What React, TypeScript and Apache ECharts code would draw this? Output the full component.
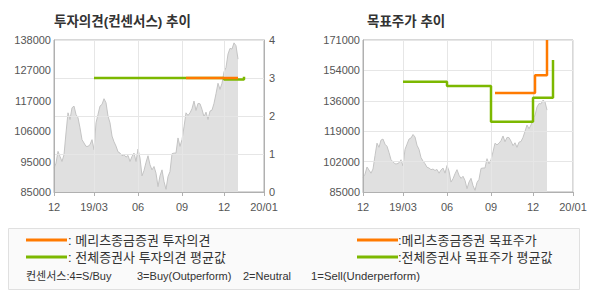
import { useEffect, useRef } from "react";
import * as echarts from "echarts";

// ---- data ----
const xTickLabels = ["12", "19/03", "06", "09", "12", "20/01"];
const xTickIndex = [0, 20, 42, 64, 85, 105];
const slotCount = 106;

const priceLeftTicks = ["85000", "95000", "106000", "117000", "127000", "138000"];
const priceRightTicks = ["85000", "102000", "119000", "136000", "154000", "171000"];
const opinionTicks = ["0", "1", "2", "3", "4"];

const price = [
  93300, 95060, 99160, 97400, 95650, 97990, 105590, 112610, 110270, 114370,
  114950, 112030, 110860, 107350, 103250, 102080, 100910, 100910, 101500, 103250,
  99740, 109100, 112030, 114950, 115540, 117530, 116120, 111440, 109100, 104500,
  102500, 101000, 99000, 98570, 97640, 97990, 97170, 97750, 95650, 97400,
  98570, 95650, 99980, 96820, 90620, 92490, 95300, 97640, 94480, 92720,
  93890, 91550, 86870, 90620, 92720, 88630, 85940, 90380, 92140, 98340,
  98570, 98570, 103840, 100910, 103250, 107700, 112610, 111680, 112610, 114020,
  116710, 113430, 115890, 115770, 113780, 111210, 112850, 110270, 113200, 113550,
  115890, 119280, 122910, 120800, 122910, 126890, 128410, 133090, 135080, 134840,
  137000, 136000, 131330,
];

const meritzOpinion = [[66, 3], [92, 3]];
const avgOpinion = [[20, 3], [85, 2.96], [95, 3.03]];
const meritzTarget = [[66, 141000], [86, 151000], [92, 171000]];
const avgTarget = [[20, 147400], [42, 145000], [64, 124700], [85, 138300], [95, 159700]];

const titleLeft = "투자의견(컨센서스) 추이";
const titleRight = "목표주가 추이";
const legendMeritzOpinion = ": 메리츠종금증권 투자의견";
const legendAvgOpinion = ": 전체증권사 투자의견 평균값";
const legendMeritzTarget = ":메리츠종금증권 목표주가";
const legendAvgTarget = ":전체증권사 목표주가 평균값";
const consensusNotes = ["컨센서스:4=S/Buy", "3=Buy(Outperform)", "2=Neutral", "1=Sell(Underperform)"];

// ---- styles ----
const FONT = "'Liberation Sans', 'Noto Sans CJK KR', sans-serif";
const ORANGE = "#ff7a00";
const GREEN = "#7cb800";
const AXIS = "#b0b0b0";
const GRID = "#e6e6e6";
const LABEL = "#555";

export default function App() {
  const ref = useRef<HTMLDivElement>(null);

  useEffect(() => {
    if (!ref.current) return;
    const chart = echarts.init(ref.current, undefined, { renderer: "svg" });
    const cats = Array.from({ length: slotCount }, (_, i) => String(i));
    const tickFn = (index: number) => xTickIndex.includes(index);
    const labelFor = (v: string) => {
      const k = xTickIndex.indexOf(Number(v));
      return k >= 0 ? xTickLabels[k] : "";
    };

    const xAxis = (gridIndex: number) => ({
      type: "category",
      gridIndex,
      data: cats,
      boundaryGap: false,
      z: 1,
      axisLine: { lineStyle: { color: AXIS } },
      axisTick: { interval: tickFn, length: 4, lineStyle: { color: AXIS } },
      axisLabel: {
        interval: tickFn,
        formatter: labelFor,
        color: LABEL,
        fontSize: 11,
        fontFamily: FONT,
        margin: 9,
      },
      splitLine: { show: true, interval: tickFn, lineStyle: { color: GRID } },
    });

    const priceSeries = (idx: number, yIdx: number) => ({
      type: "line",
      xAxisIndex: idx,
      yAxisIndex: yIdx,
      data: price,
      symbol: "none",
      silent: true,
      z: 0,
      lineStyle: { color: "#c4c4c4", width: 1 },
      areaStyle: { color: "#e0e0e0", opacity: 1 },
    });

    const stepSeries = (data: number[][], color: string, xIdx: number, yIdx: number) => ({
      type: "line",
      xAxisIndex: xIdx,
      yAxisIndex: yIdx,
      data,
      step: "end",
      symbol: "none",
      silent: true,
      z: 3,
      lineStyle: { color, width: 2.5 },
    });

    const textStyle = (text: string, x: number, y: number, size: number, bold = false) => ({
      type: "text",
      x,
      y,
      style: {
        text,
        fill: "#333",
        font: `${bold ? "bold " : ""}${size}px ${FONT}`,
        verticalAlign: "middle",
        align: "left",
      },
    });

    const legendLine = (x: number, y: number, color: string) => ({
      type: "line",
      shape: { x1: x, y1: y, x2: x + 41, y2: y },
      style: { stroke: color, lineWidth: 3 },
    });

    chart.setOption({
      animation: false,
      grid: [
        { left: 54, top: 40, width: 210, height: 152, show: true, borderColor: AXIS, borderWidth: 1, backgroundColor: "transparent" },
        { left: 363, top: 40, width: 210, height: 152, show: true, borderColor: AXIS, borderWidth: 1, backgroundColor: "transparent" },
      ],
      xAxis: [xAxis(0), xAxis(1)],
      yAxis: [
        {
          type: "value",
          gridIndex: 0,
          position: "left",
          min: 85000,
          max: 138000,
          interval: 10600,
          z: 1,
          axisLine: { show: true, lineStyle: { color: AXIS } },
          axisTick: { show: false },
          axisLabel: {
            formatter: (_v: number, i: number) => priceLeftTicks[i] ?? "",
            color: LABEL,
            fontSize: 11,
            fontFamily: FONT,
            margin: 3,
          },
          splitLine: { show: false },
        },
        {
          type: "value",
          gridIndex: 0,
          position: "right",
          min: 0,
          max: 4,
          interval: 1,
          z: 1,
          axisLine: { show: true, lineStyle: { color: AXIS } },
          axisTick: { show: false },
          axisLabel: {
            formatter: (_v: number, i: number) => opinionTicks[i] ?? "",
            color: LABEL,
            fontSize: 11,
            fontFamily: FONT,
            margin: 5,
          },
          splitLine: { show: true, lineStyle: { color: GRID } },
        },
        {
          type: "value",
          gridIndex: 1,
          position: "left",
          min: 85000,
          max: 171000,
          interval: 17200,
          z: 1,
          axisLine: { show: true, lineStyle: { color: AXIS } },
          axisTick: { show: false },
          axisLabel: {
            formatter: (_v: number, i: number) => priceRightTicks[i] ?? "",
            color: LABEL,
            fontSize: 11,
            fontFamily: FONT,
            margin: 3,
          },
          splitLine: { show: true, lineStyle: { color: GRID } },
        },
      ],
      series: [
        priceSeries(0, 0),
        stepSeries(avgOpinion, GREEN, 0, 1),
        stepSeries(meritzOpinion, ORANGE, 0, 1),
        priceSeries(1, 2),
        stepSeries(avgTarget, GREEN, 1, 2),
        stepSeries(meritzTarget, ORANGE, 1, 2),
      ],
      graphic: [
        textStyle(titleLeft, 54, 21, 13.5, true),
        textStyle(titleRight, 367, 21, 13.5, true),
        {
          type: "rect",
          shape: { x: 8.5, y: 228.5, width: 571, height: 61 },
          style: { fill: "#fafafa", stroke: "#e0e0e0", lineWidth: 1 },
        },
        legendLine(26, 240, ORANGE),
        legendLine(26, 257, GREEN),
        legendLine(357, 240, ORANGE),
        legendLine(357, 257, GREEN),
        textStyle(legendMeritzOpinion, 68, 240, 13),
        textStyle(legendAvgOpinion, 68, 257, 13),
        textStyle(legendMeritzTarget, 398, 240, 13),
        textStyle(legendAvgTarget, 398, 257, 13),
        textStyle(consensusNotes[0], 26, 276, 11),
        textStyle(consensusNotes[1], 137, 276, 11),
        textStyle(consensusNotes[2], 243, 276, 11),
        textStyle(consensusNotes[3], 311, 276, 11.3),
      ],
    });
    return () => chart.dispose();
  }, []);

  return (
    <div
      ref={ref}
      style={{ position: "fixed", left: 0, top: 0, width: 590, height: 300, background: "#fff" }}
    />
  );
}
